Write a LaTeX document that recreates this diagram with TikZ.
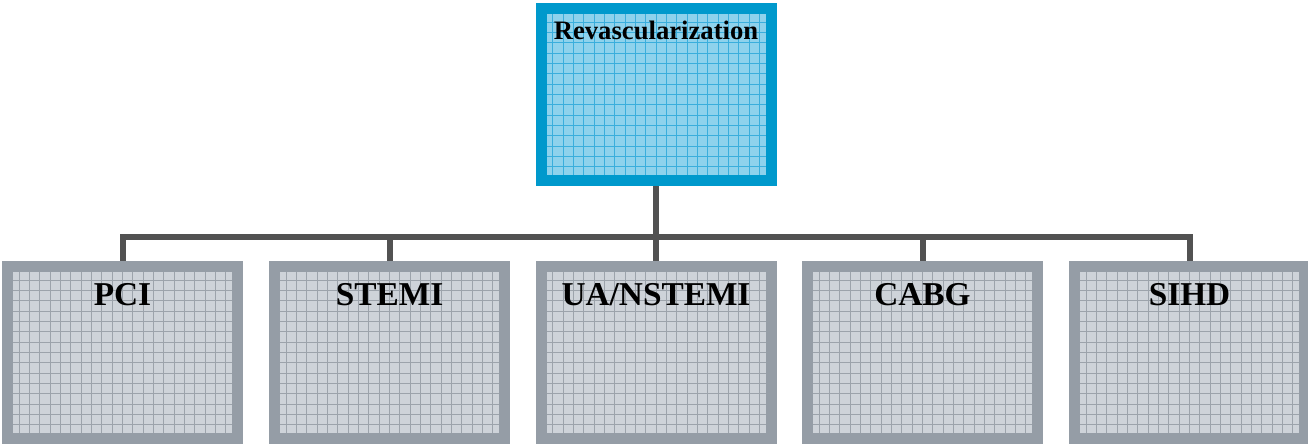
\documentclass[tikz,border=0pt]{standalone}
\usepackage{fontspec}
\setmainfont{Liberation Serif}
\definecolor{topline}{HTML}{0099CC}
\definecolor{topfill}{HTML}{8ED2EC}
\definecolor{topgrid}{HTML}{3AAEDC}
\definecolor{boxline}{HTML}{959DA6}
\definecolor{boxfill}{HTML}{CED3D9}
\definecolor{boxgrid}{HTML}{9CA3AB}
\definecolor{connline}{HTML}{525252}
\tikzset{
  gridbox/.style 2 args={draw=#1, fill=#2, line width=8.25pt,
    minimum width=172.5pt, minimum height=129pt, inner sep=0pt},
  topbox/.style={gridbox={topline}{topfill},
    path picture={\draw[topgrid, line width=.6pt]
      (path picture bounding box.south west) grid[step=7.75pt]
      (path picture bounding box.north east);}},
  subbox/.style={gridbox={boxline}{boxfill},
    path picture={\draw[boxgrid, line width=.6pt]
      (path picture bounding box.south west) grid[step=7.75pt]
      (path picture bounding box.north east);}},
  conn/.style={connline, line width=4.5pt},
}
\begin{document}
\begin{tikzpicture}[x=.75pt,y=-.75pt]
			\useasboundingbox (0,0) rectangle (1308,444);
			\node[topbox, label={[anchor=base, yshift=-27pt, font=\bfseries\fontsize{20}{24}\selectfont]north:Revascularization}] at (656,94.5) (revasc) {};
			%
			\node[subbox, label={[anchor=base, yshift=-33pt, font=\bfseries\fontsize{25}{30}\selectfont]north:PCI}] at (122.5,352.5) (pci) {};
			\node[subbox, label={[anchor=base, yshift=-33pt, font=\bfseries\fontsize{25}{30}\selectfont]north:STEMI}] at (389.5,352.5) (stemi) {};
			\node[subbox, label={[anchor=base, yshift=-33pt, font=\bfseries\fontsize{25}{30}\selectfont]north:UA/NSTEMI}] at (656,352.5) (uansi) {};
			\node[subbox, label={[anchor=base, yshift=-33pt, font=\bfseries\fontsize{25}{30}\selectfont]north:CABG}] at (922.5,352.5) (cabg) {};
			\node[subbox, label={[anchor=base, yshift=-33pt, font=\bfseries\fontsize{25}{30}\selectfont]north:SIHD}] at (1189.5,352.5) (sihd) {};
			%
			\foreach \b in {pci,stemi,uansi,cabg,sihd}
				\draw[conn] (revasc.south) -- ++(0,51) -| (\b.north);
		\end{tikzpicture}
\end{document}
